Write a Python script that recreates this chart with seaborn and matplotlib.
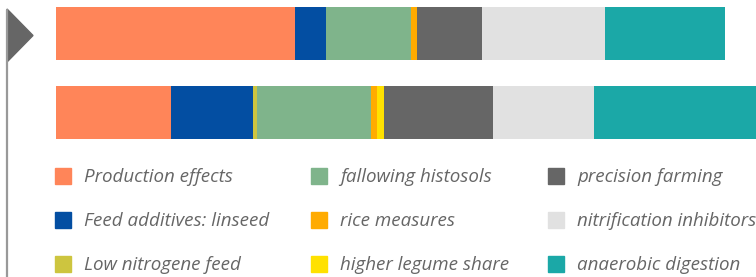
import numpy as np
import pandas as pd
import seaborn as sns
import matplotlib.pyplot as plt
from matplotlib.patches import Rectangle, Polygon
from matplotlib.lines import Line2D

# data (approximate)
rows = ['scenario A', 'scenario B']
measures = [
    'Production effects', 'Feed additives: linseed', 'Low nitrogene feed',
    'fallowing histosols', 'rice measures', 'higher legume share',
    'precision farming', 'nitrification inhibitors', 'anaerobic digestion'
]
values_a = [23.9, 3.1, 0.0, 8.5, 0.6, 0.0, 6.5, 12.3, 12.0]
values_b = [11.5, 8.2, 0.4, 11.4, 0.6, 0.7, 10.9, 10.1, 16.5]
colors = ['#ff8559', '#034ea2', '#cdc53f', '#7fb48b', '#ffab00',
          '#ffe100', '#666666', '#e1e1e1', '#1ba8a7']

# cumulative ends so that overlapping bars look stacked
cum_a = np.cumsum(values_a)
cum_b = np.cumsum(values_b)
df = pd.DataFrame({
    'row': [rows[0]] * len(measures) + [rows[1]] * len(measures),
    'measure': measures * 2,
    'end': list(cum_a) + list(cum_b),
})

sns.set_theme(style='white')
plt.rcParams['font.family'] = ['Open Sans', 'DejaVu Sans']

W, H = 756, 277
fig = plt.figure(figsize=(W / 100, H / 100), dpi=100)

# bar axes in pixel placement
ax = fig.add_axes([55.5 / W, 1 - 146 / H, (W - 55.5) / W, 146 / H])
pal = dict(zip(measures, colors))
sns.barplot(data=df, x='end', y='row', hue='measure',
            hue_order=measures[::-1], palette=pal, dodge=False,
            width=0.67, orient='h', ax=ax, legend=False,
            linewidth=0, saturation=1)
ax.set_xlim(0, 70.05)
ax.set_ylim(1 + 33.5 / 79, -33.5 / 79)
ax.axis('off')

# flag marker on the left
fig.add_artist(Line2D([7 / W, 7 / W], [1 - 10 / H, 0], color='#999999',
                      lw=1.6, transform=fig.transFigure))
fig.add_artist(Polygon([[7 / W, 1 - 9 / H], [7 / W, 1 - 62 / H], [33 / W, 1 - 35.5 / H]],
                       closed=True, color='#666666', transform=fig.transFigure))

# legend, three columns
col_x = [55, 311, 548]
row_y = [176, 220, 264]
for i, (name, c) in enumerate(zip(measures, colors)):
    x0 = col_x[i // 3]
    y0 = row_y[i % 3]
    fig.add_artist(Rectangle((x0 / W, 1 - (y0 + 8) / H), 16 / W, 16 / H,
                             color=c, transform=fig.transFigure))
    fig.text((x0 + 29) / W, 1 - (y0 + 1) / H, name, fontsize=13.5, style='italic',
             color='#666666', va='center', ha='left')

fig.savefig('out.png', dpi=100)
